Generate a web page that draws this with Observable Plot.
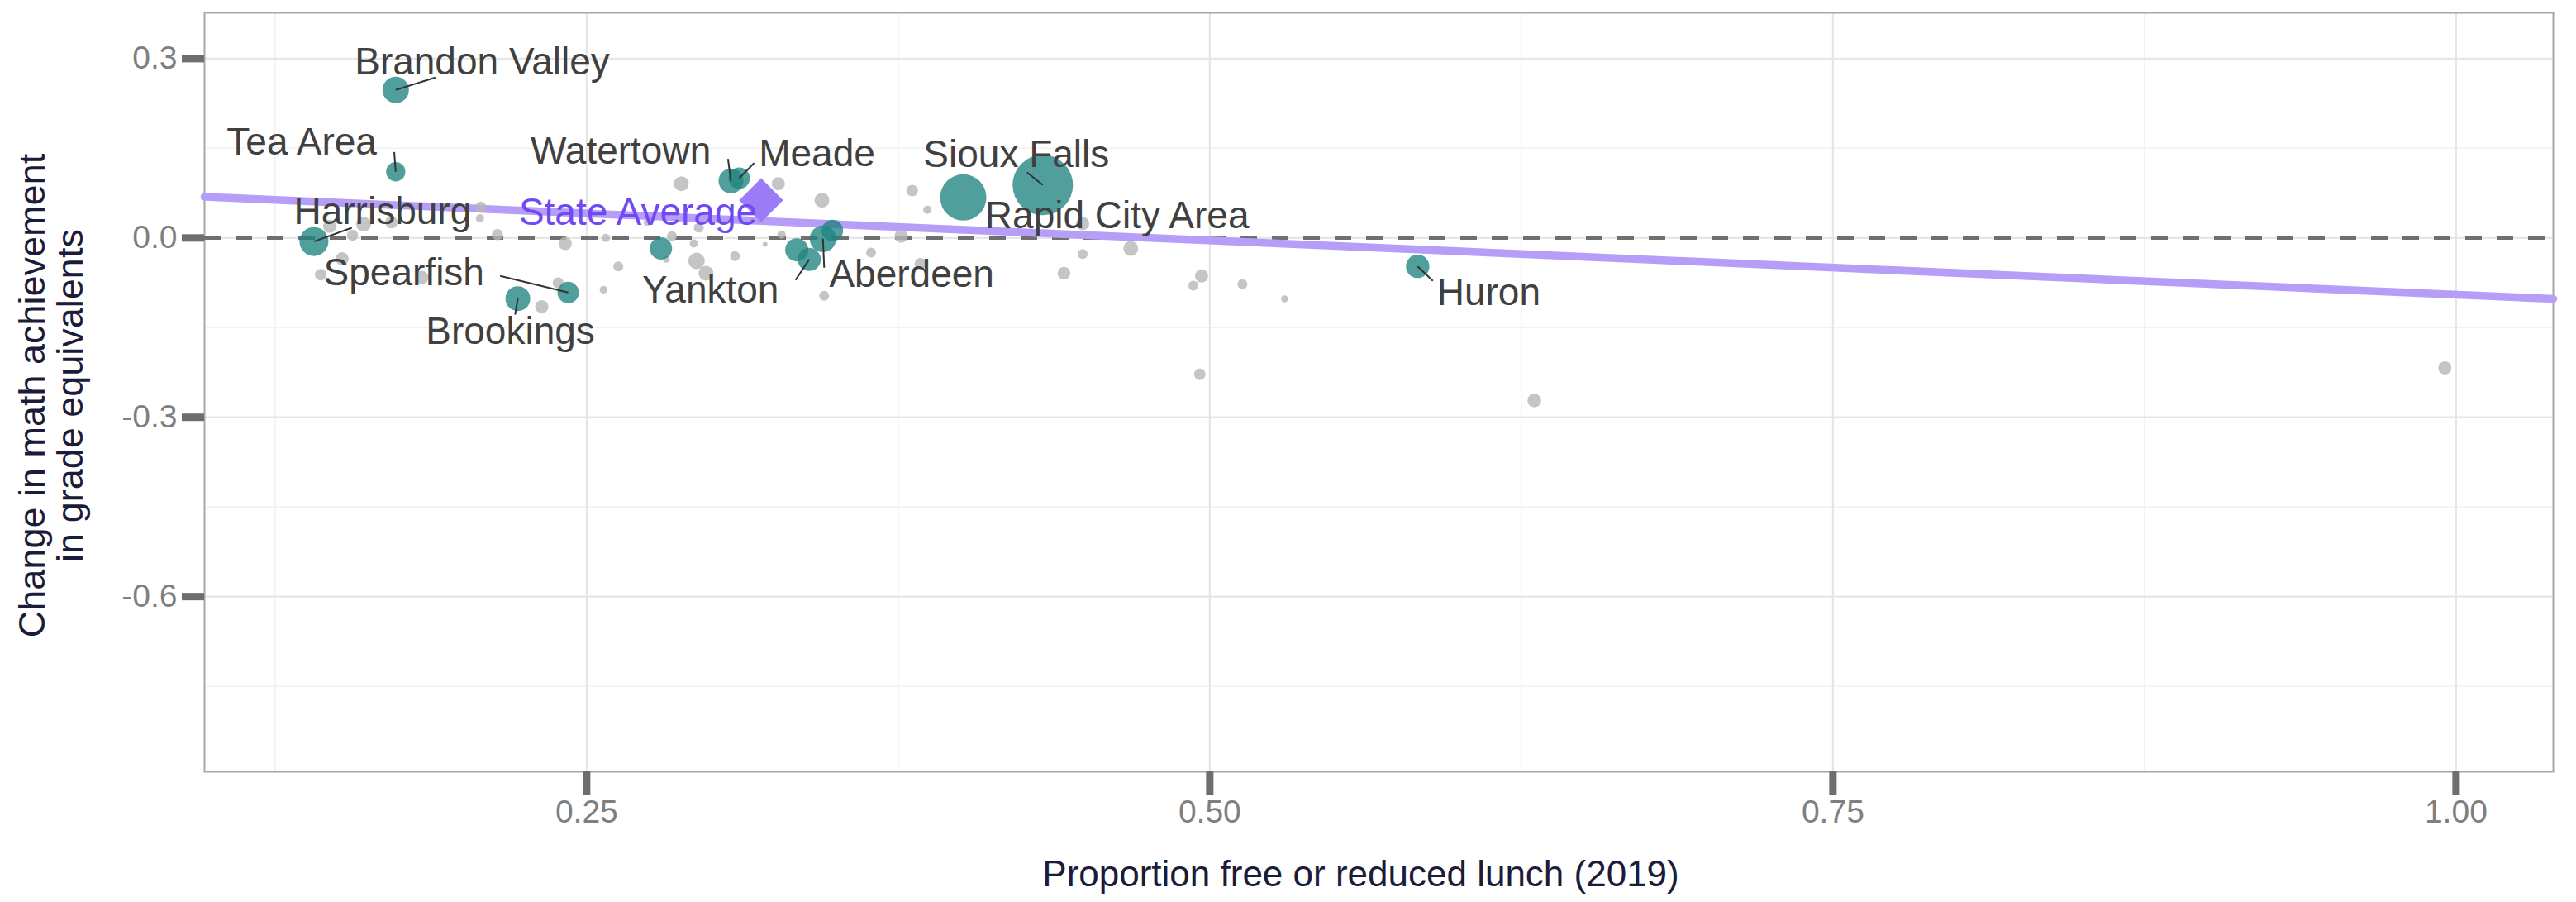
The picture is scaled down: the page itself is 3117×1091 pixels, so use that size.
<!DOCTYPE html>
<html>
<head>
<meta charset="utf-8">
<script src="https://cdn.jsdelivr.net/npm/d3@7"></script>
<script src="https://cdn.jsdelivr.net/npm/@observablehq/plot@0.6"></script>
<style>
  html, body { margin: 0; padding: 0; background: #ffffff; }
  svg { display: block; }
</style>
</head>
<body>
<div id="chart"></div>
<script>
// ---- Highlighted districts (teal) ----
const focusNames  = ["Brandon Valley","Tea Area","Harrisburg","Spearfish","Brookings","Watertown","Meade","Yankton","Aberdeen","Sioux Falls","Rapid City Area","Huron","","",""];
const focusFrl    = [0.1734, 0.1734, 0.1406, 0.2426, 0.2224, 0.3079, 0.3112, 0.3393, 0.3448, 0.4330, 0.4011, 0.5834, 0.2798, 0.3343, 0.3486];
const focusChange = [0.2476, 0.1107, -0.0060, -0.0913, -0.1015, 0.0954, 0.1000, -0.0360, -0.0014, 0.0885, 0.0678, -0.0476, -0.0176, -0.0199, 0.0124];
const focusEnroll = [4610, 2450, 5520, 3040, 4050, 4050, 3040, 3530, 4610, 24000, 14100, 3600, 3280, 3530, 3040];
// label anchor (repelled text position) and end of leader segment, in data units
const labelFrl    = [0.2081, 0.1357, 0.1681, 0.1767, 0.2194, 0.2637, 0.3424, 0.2997, 0.3804, 0.4224, 0.4628, 0.6119, null, null, null];
const labelChange = [0.2936, 0.1595, 0.0433, -0.0591, -0.1573, 0.1443, 0.1401, -0.0881, -0.0618, 0.1394, 0.0364, -0.0923, null, null, null];
const leaderFrl   = [0.1893, 0.1728, 0.1558, 0.2153, 0.2213, 0.3067, 0.3172, 0.3338, 0.3453, 0.4267, null, 0.5895, null, null, null];
const leaderChange= [0.2683, 0.1438, 0.0170, -0.0636, -0.1282, 0.1322, 0.1253, -0.0705, -0.0498, 0.1097, null, -0.0719, null, null, null];

// ---- Other districts (grey) ----
const otherFrl = [0.2075, 0.2072, 0.2142, 0.2414, 0.2577, 0.2627, 0.2568, 0.2386, 0.2320, 0.1561,
                  0.1605, 0.1717, 0.1469, 0.1519, 0.1433, 0.1839, 0.2880, 0.3269, 0.3444, 0.3806,
                  0.3867, 0.3762, 0.3641, 0.3839, 0.3453, 0.3095, 0.2941, 0.2979, 0.2930, 0.2842,
                  0.3216, 0.3282, 0.2820, 0.2950, 0.2742, 0.4490, 0.4490, 0.4683, 0.4415, 0.4967,
                  0.4934, 0.5131, 0.5300, 0.4960, 0.6302, 0.9955];
const otherChange = [0.0516, 0.0330, 0.0055, -0.0093, 0.0000, -0.0476, -0.0867, -0.0752, -0.1150, 0.0046,
                     0.0230, 0.0263, 0.0194, -0.0350, -0.0614, -0.0660, 0.0907, 0.0907, 0.0631, 0.0793,
                     0.0470, 0.0030, -0.0245, -0.0430, -0.0968, -0.0304, -0.0383, -0.0590, -0.0093, 0.0030,
                     -0.0107, 0.0055, -0.0360, 0.0170, 0.0260, 0.0240, -0.0268, -0.0176, -0.0590, -0.0636,
                     -0.0798, -0.0775, -0.1020, -0.2280, -0.2720, -0.2174];
const otherEnroll = [810, 450, 810, 1150, 450, 650, 400, 810, 1150, 810,
                     1460, 1010, 1150, 1150, 880, 1150, 1460, 1150, 1460, 880,
                     450, 1150, 650, 880, 650, 650, 1800, 1460, 450, 650,
                     160, 450, 290, 650, 290, 1150, 650, 1460, 1070, 1150,
                     650, 650, 330, 880, 1240, 1150];

// ---- State average and fitted line ----
const stateAvgFrl = [0.3200];
const stateAvgChange = [0.0631];
const stateAvgLabel = ["State Average"];
const stateAvgLabelFrl = [0.2706];
const stateAvgLabelChange = [0.0419];
const trendFrl = [0.0967, 1.039];
const trendChange = [0.0689, -0.1020];

// ---- Ticks ----
const xTicks = [0.25, 0.50, 0.75, 1.00];
const xTickLabels = ["0.25", "0.50", "0.75", "1.00"];
const xMinorTicks = [0.125, 0.375, 0.625, 0.875];
const yTicks = [0.3, 0.0, -0.3, -0.6];
const yTickLabels = ["0.3", "0.0", "-0.3", "-0.6"];
const yMinorTicks = [0.15, -0.15, -0.45, -0.75];

const xTitle = "Proportion free or reduced lunch (2019)";
const yTitle = "Change in math achievement\nin grade equivalents";

// ---- Build tables ----
const focus = focusNames.map((name, i) => ({
  name, frl: focusFrl[i], change: focusChange[i], enroll: focusEnroll[i],
  lx: labelFrl[i], ly: labelChange[i], ex: leaderFrl[i], ey: leaderChange[i]
}));
const others = otherFrl.map((f, i) => ({frl: f, change: otherChange[i], enroll: otherEnroll[i]}));
const stateAvg = stateAvgFrl.map((f, i) => ({frl: f, change: stateAvgChange[i], label: stateAvgLabel[i], lx: stateAvgLabelFrl[i], ly: stateAvgLabelChange[i]}));
const trend = trendFrl.map((f, i) => ({frl: f, change: trendChange[i]}));

const font = "'Liberation Sans', Arial, Helvetica, sans-serif";

const chart = Plot.plot({
  width: 3117,
  height: 1091,
  marginLeft: 247,
  marginRight: 28,
  marginTop: 15,
  marginBottom: 158,
  style: {fontFamily: font, background: "#ffffff", overflow: "visible"},
  x: {domain: [0.0967, 1.039], label: null},
  y: {domain: [-0.893, 0.3766], label: null},
  r: {type: "sqrt", domain: [0, 24000], range: [0, 36.5]},
  marks: [
    Plot.gridX({ticks: xMinorTicks, stroke: "#f1f1f1", strokeOpacity: 1, strokeWidth: 1.5}),
    Plot.gridY({ticks: yMinorTicks, stroke: "#f1f1f1", strokeOpacity: 1, strokeWidth: 1.5}),
    Plot.gridX({ticks: xTicks, stroke: "#e6e6e6", strokeOpacity: 1, strokeWidth: 2.2}),
    Plot.gridY({ticks: yTicks, stroke: "#e6e6e6", strokeOpacity: 1, strokeWidth: 2.2}),
    Plot.frame({stroke: "#a8a8a8", strokeWidth: 2}),
    Plot.axisX({
      ticks: xTicks, tickFormat: d => xTickLabels[xTicks.indexOf(d)],
      tickSize: 28, tickPadding: 6, strokeWidth: 9, stroke: "#6e6e6e",
      fill: "#7f7f7f", fontSize: 39, label: null
    }),
    Plot.axisY({
      ticks: yTicks, tickFormat: d => yTickLabels[yTicks.indexOf(d)],
      tickSize: 27, tickPadding: 6, strokeWidth: 9, stroke: "#6e6e6e",
      fill: "#7f7f7f", fontSize: 39, label: null
    }),
    Plot.ruleY([0], {stroke: "#6f6f6f", strokeWidth: 4.5, strokeDasharray: "20,18"}),
    Plot.line(trend, {x: "frl", y: "change", stroke: "#b59df8", strokeWidth: 9.5}),
    Plot.dot(others, {x: "frl", y: "change", r: "enroll", fill: "#b6b6b6", fillOpacity: 0.8}),
    Plot.dot(focus, {x: "frl", y: "change", r: "enroll", fill: "#1f8480", fillOpacity: 0.78}),
    Plot.dot(stateAvg, {x: "frl", y: "change", symbol: "diamond2", r: 24, fill: "#9c7cf6"}),
    Plot.link(focus.filter(d => d.ex != null), {x1: "frl", y1: "change", x2: "ex", y2: "ey", stroke: "#333333", strokeWidth: 2}),
    Plot.text(focus.filter(d => d.name), {x: "lx", y: "ly", text: "name", fontSize: 46, fill: "#404040"}),
    Plot.text(stateAvg, {x: "lx", y: "ly", text: "label", fontSize: 46, fill: "#7049f2"}),
    Plot.text([xTitle], {frameAnchor: "bottom", textAnchor: "middle", lineAnchor: "middle", dy: 124, dx: -22, fontSize: 44, fill: "#1b1b3a"}),
    Plot.text([yTitle], {frameAnchor: "left", textAnchor: "middle", rotate: -90, lineAnchor: "middle", lineHeight: 1.04, dx: -185.5, dy: 4, fontSize: 45, fill: "#1b1b3a"})
  ]
});

document.getElementById("chart").appendChild(chart);
</script>
</body>
</html>
